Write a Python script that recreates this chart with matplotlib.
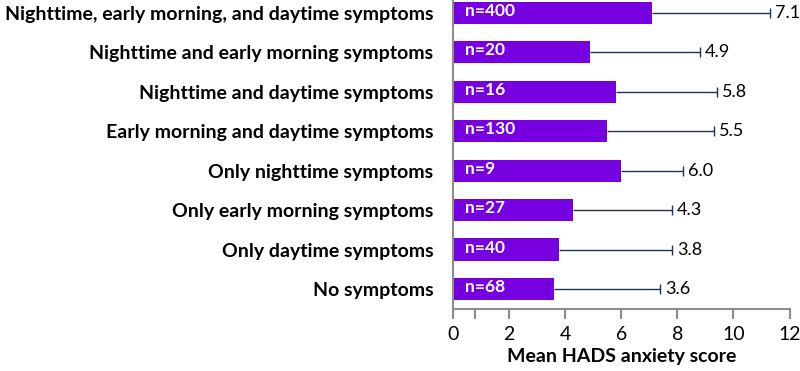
import matplotlib.pyplot as plt
from matplotlib.ticker import FixedLocator

plt.rcParams['font.family'] = ['Lato', 'DejaVu Sans']

# 数据（从上到下）
categories = ['Nighttime, early morning, and daytime symptoms',
              'Nighttime and early morning symptoms',
              'Nighttime and daytime symptoms',
              'Early morning and daytime symptoms',
              'Only nighttime symptoms',
              'Only early morning symptoms',
              'Only daytime symptoms',
              'No symptoms']
means = [7.1, 4.9, 5.8, 5.5, 6.0, 4.3, 3.8, 3.6]
errors = [4.2, 3.9, 3.6, 3.8, 2.2, 3.5, 4.0, 3.8]
counts = ['n=400', 'n=20', 'n=16', 'n=130', 'n=9', 'n=27', 'n=40', 'n=68']

bar_color = '#7700E0'
err_color = '#1F3450'
spine_color = '#8C8C8C'

fig = plt.figure(figsize=(8, 3.71), dpi=100)
ax = fig.add_axes([0.566, 0.167, 0.421, 0.833])

y = list(range(len(categories)))[::-1]
bars = ax.barh(y, means, height=0.56, color=bar_color,
               xerr=[[0] * len(means), errors],
               error_kw=dict(ecolor=err_color, elinewidth=1, capsize=3.5, capthick=1))
# 只保留右侧的误差线端帽
caps = bars.errorbar.lines[1]
caps[0].set_visible(False)

for yi, m, e, n in zip(y, means, errors, counts):
    ax.text(0.45, yi + 0.05, n, color='white', fontweight='bold',
            fontsize=12.5, va='center', ha='left')
    ax.text(m + e + 0.18, yi, f'{m:.1f}', color='black',
            fontsize=13, va='center', ha='left')

ax.set_yticks(y)
ax.set_yticklabels(categories, fontweight='bold', fontsize=14)
ax.tick_params(axis='y', length=0, pad=14)

ax.set_xlim(0, 12)
ax.set_ylim(-0.51, 7.33)
ax.set_xticks(range(0, 13, 2))
ax.xaxis.set_minor_locator(FixedLocator([0.8]))
ax.tick_params(axis='x', which='both', direction='out', length=7.5,
               width=1.5, color=spine_color, labelsize=14, pad=5)
ax.set_xlabel('Mean HADS anxiety score', fontweight='bold', fontsize=14, labelpad=3)

for s in ['top', 'right']:
    ax.spines[s].set_visible(False)
for s in ['left', 'bottom']:
    ax.spines[s].set_color(spine_color)
    ax.spines[s].set_linewidth(1.5)

plt.savefig('out.png', dpi=100)
